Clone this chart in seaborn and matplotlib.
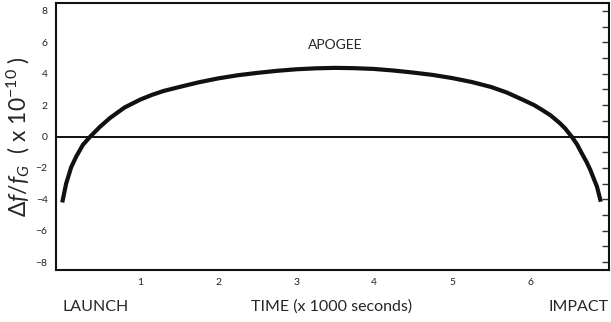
import matplotlib
matplotlib.use("Agg")
import matplotlib.pyplot as plt
import seaborn as sns
import numpy as np
import pandas as pd
from matplotlib.ticker import MultipleLocator, FixedLocator

time_k = [0.0, 0.05, 0.115, 0.18, 0.265, 0.36, 0.48, 0.61, 0.8, 1.0,
          1.15, 1.3, 1.5, 1.75, 2.0, 2.25, 2.5, 2.75, 3.0, 3.25, 3.5, 3.75, 4.0, 4.25,
          4.5, 4.75, 5.0, 5.25, 5.5, 5.7, 5.9, 6.05, 6.15, 6.26, 6.38, 6.45, 6.53, 6.6,
          6.66, 6.72, 6.77, 6.82, 6.855, 6.905]
shift = [-4.2, -3.0, -1.95, -1.27, -0.53, 0.0, 0.6, 1.17, 1.85, 2.35,
         2.65, 2.9, 3.15, 3.45, 3.7, 3.9, 4.05, 4.18, 4.28, 4.34, 4.37, 4.35, 4.3, 4.2,
         4.07, 3.92, 3.72, 3.47, 3.15, 2.8, 2.35, 2.0, 1.7, 1.35, 0.85, 0.5, 0.0, -0.5,
         -1.06, -1.6, -2.12, -2.75, -3.18, -4.15]
x_tick_labels = ["", "1", "2", "3", "4", "5", "6", ""]
y_tick_values = [-8, -6, -4, -2, 0, 2, 4, 6, 8]

sns.set_style("white")
plt.rcParams['font.family'] = ['Lato', 'DejaVu Sans']
plt.rcParams['mathtext.fontset'] = 'custom'
plt.rcParams['mathtext.rm'] = 'Lato'
plt.rcParams['mathtext.it'] = 'Lato:italic'

fig = plt.figure(figsize=(6.11, 3.22), dpi=100)
ax = fig.add_axes([56/611, 1-270/322, (609-56)/611, (270-3)/322])

df = pd.DataFrame({"t": time_k, "v": shift})
sns.lineplot(data=df, x="t", y="v", ax=ax, color="#111111", linewidth=3.0,
             sort=False, estimator=None, solid_capstyle="butt", solid_joinstyle="round")

ax.axhline(0, color="#111111", linewidth=1.4, zorder=1)

ax.set_xlim(-0.08, 7.01)
ax.set_ylim(-8.5, 8.5)

ax.xaxis.set_major_locator(FixedLocator(list(range(8))))
ax.set_xticklabels(x_tick_labels)
ax.xaxis.set_minor_locator(MultipleLocator(0.5))
ax.yaxis.set_major_locator(FixedLocator(y_tick_values))
ax.yaxis.set_minor_locator(MultipleLocator(1))

ax.tick_params(axis="both", which="both", direction="in", color="#333333")
ax.tick_params(axis="x", which="major", length=5, width=1, labelsize=7.5, pad=6, top=False,
               labelcolor="#222222")
ax.tick_params(axis="x", which="minor", length=5, width=1, top=False)
ax.tick_params(axis="y", which="major", length=5, width=1, labelsize=7.5, pad=6, right=True,
               labelcolor="#222222")
ax.tick_params(axis="y", which="minor", length=5, width=1, right=True)

for s in ax.spines.values():
    s.set_linewidth(1.5)
    s.set_color("#111111")

ax.set_xlabel("")
ax.set_ylabel(r"$\Delta f/f_{G}$  ( x 10$^{-10}$ )", fontsize=16.5, labelpad=3)

ax.text(3.5, 5.8, "APOGEE", ha="center", va="center", fontsize=10)

fig.text(62/611, 1-307/322, "LAUNCH", ha="left", va="center", fontsize=11.5)
fig.text(332/611, 1-307/322, "TIME (x 1000 seconds)", ha="center", va="center", fontsize=11.5)
fig.text(609/611, 1-307/322, "IMPACT", ha="right", va="center", fontsize=11.5)

fig.savefig("out.png", dpi=100)
